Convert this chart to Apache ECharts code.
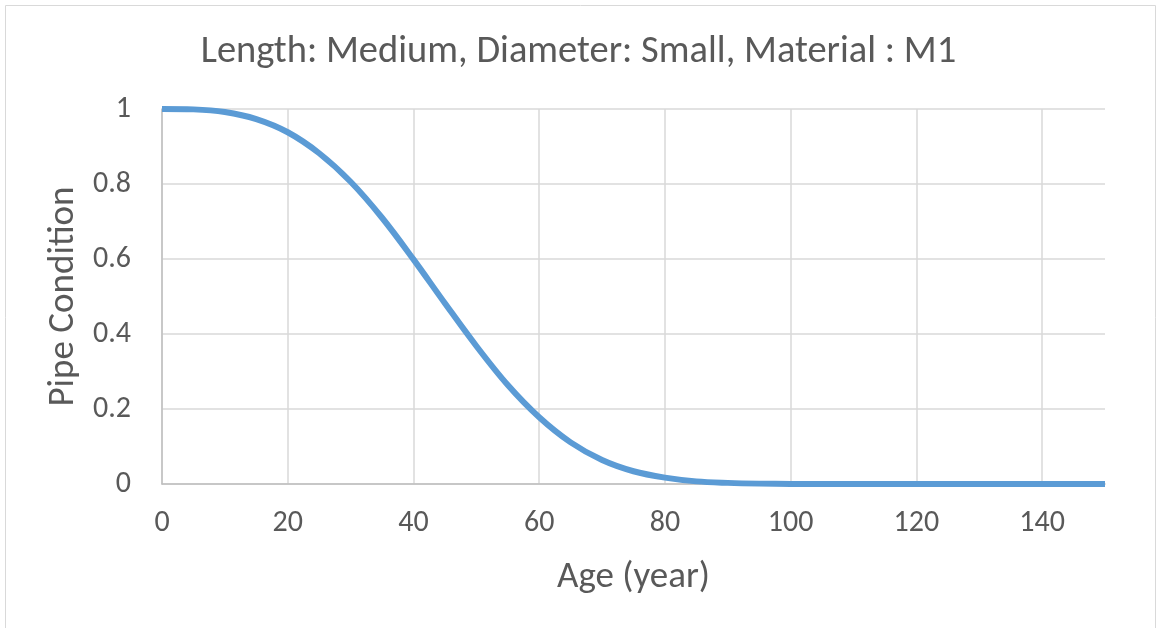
<!DOCTYPE html>
<html>
<head>
<meta charset="utf-8">
<script src="https://cdn.jsdelivr.net/npm/echarts@6/dist/echarts.min.js"></script>
<style>
html,body{margin:0;padding:0;background:#fff;}
#chart{width:1157px;height:628px;}
</style>
</head>
<body>
<div id="chart"></div>
<script>
// Pipe deterioration curve: condition versus age
const chartTitle = 'Length: Medium, Diameter: Small, Material : M1';
const ages = [0, 5, 10, 15, 20, 25, 30, 35, 40, 45, 50, 55, 60, 65, 70, 75, 80, 85, 90, 95, 100, 105, 110, 115, 120, 125, 130, 135, 140, 145, 150];
const condition = [1, 0.999, 0.992, 0.973, 0.938, 0.882, 0.806, 0.710, 0.599, 0.482, 0.368, 0.264, 0.178, 0.111, 0.064, 0.034, 0.017, 0.007, 0.003, 0.001, 0.0003, 0, 0, 0, 0, 0, 0, 0, 0, 0, 0];
const xTicks = [0, 20, 40, 60, 80, 100, 120, 140];
const yTicks = [0, 0.2, 0.4, 0.6, 0.8, 1];

const textColor = '#595959';
const fontFamily = 'Carlito, "Open Sans", sans-serif';

const chart = echarts.init(document.getElementById('chart'));
chart.setOption({
  animation: false,
  graphic: [{
    type: 'rect',
    shape: { x: 5.5, y: 5.5, width: 1150, height: 640 },
    style: { fill: 'none', stroke: '#d9d9d9', lineWidth: 1 },
    silent: true
  }],
  title: {
    text: chartTitle,
    left: 'center',
    top: 28,
    textStyle: { color: textColor, fontSize: 38.5, fontWeight: 'normal', fontFamily: fontFamily }
  },
  grid: { left: 162, right: 52, top: 109, bottom: 144 },
  xAxis: {
    type: 'value',
    min: 0,
    max: 150,
    name: 'Age (year)',
    nameLocation: 'middle',
    nameGap: 75,
    nameTextStyle: { color: textColor, fontSize: 37, fontFamily: fontFamily },
    axisLine: { show: true, lineStyle: { color: '#bfbfbf', width: 1.5 } },
    axisTick: { show: false, customValues: xTicks },
    axisLabel: { customValues: xTicks, color: textColor, fontSize: 30, fontFamily: fontFamily, margin: 24 },
    splitLine: { show: true, lineStyle: { color: '#d9d9d9', width: 1.5 } }
  },
  yAxis: {
    type: 'value',
    min: 0,
    max: 1,
    interval: 0.2,
    name: 'Pipe Condition',
    nameLocation: 'middle',
    nameGap: 78,
    nameTextStyle: { color: textColor, fontSize: 37, fontFamily: fontFamily },
    axisLine: { show: true, lineStyle: { color: '#bfbfbf', width: 1.5 } },
    axisTick: { show: false },
    axisLabel: {
      color: textColor, fontSize: 30, fontFamily: fontFamily, margin: 31,
      formatter: v => yTicks.includes(+v.toFixed(1)) ? String(+v.toFixed(1)) : ''
    },
    splitLine: { show: true, lineStyle: { color: '#d9d9d9', width: 1.5 } }
  },
  series: [{
    type: 'line',
    data: ages.map((a, i) => [a, condition[i]]),
    smooth: 0.35,
    showSymbol: false,
    clip: false,
    lineStyle: { color: '#5b9bd5', width: 6, cap: 'butt' }
  }]
});
</script>
</body>
</html>
